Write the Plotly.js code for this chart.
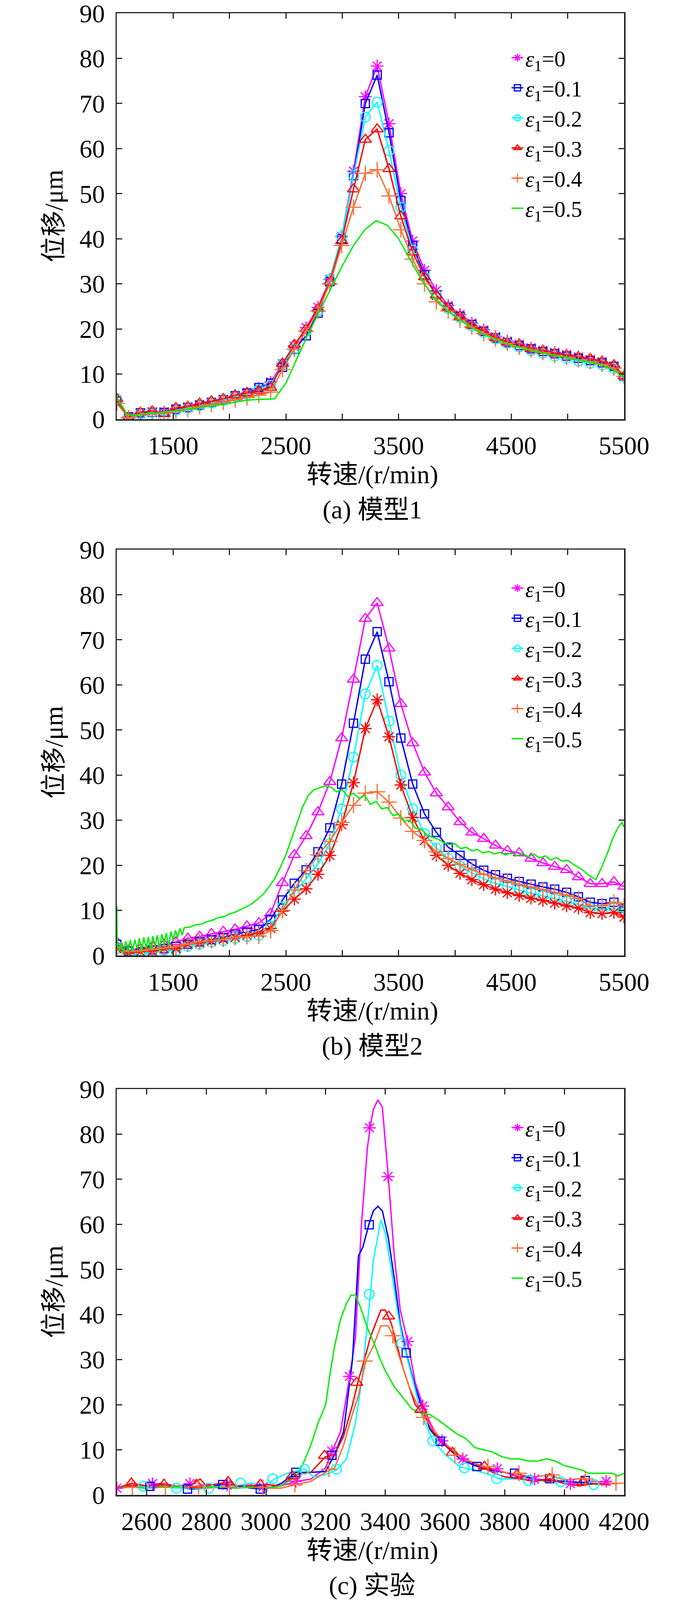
<!DOCTYPE html>
<html>
<head>
<meta charset="utf-8">
<script src="https://cdn.plot.ly/plotly-3.0.1.min.js"></script>
<style>
  html,body{margin:0;padding:0;background:#fff;}
  #chart{width:1772px;height:4101px;}
</style>
</head>
<body>
<div id="chart"></div>
<script>
// ---- (a) 模型1 / (b) 模型2 : speed grid shared by the marked curves (r/min)
const speedModel = [1000,1105,1210,1315,1420,1525,1630,1735,1840,1945,2050,2155,2260,2365,2470,2575,2680,2785,2890,2995,3100,3205,3310,3415,3520,3625,3730,3835,3940,4045,4150,4255,4360,4465,4570,4675,4780,4885,4990,5095,5200,5305,5410,5500];

// (a) 模型1, displacement in um
const m1_e0 = [3.5,0.5,1.3,1.6,1.6,2.3,2.7,3.2,3.7,4.3,5.0,5.8,6.8,8.2,12.3,16.2,20.3,24.8,31,40.5,55,71.5,78.3,65.5,50,39.5,33,28.5,25.2,23.2,21.3,19.8,18.3,17.3,16.6,15.8,15.2,14.8,14.3,13.8,13.2,12.7,11.7,9.5];
const m1_e1 = [4,0.5,1.4,1.5,1.5,2.2,2.6,3.1,3.7,4.3,5.2,5.8,7.0,8.0,11.5,15.5,18.5,23.5,30.5,40,54,70,76.3,63.5,48.5,38.5,32,27.5,24.8,22.8,21,19.5,18.0,17.0,16.3,15.6,15.0,14.5,14.0,13.5,13.0,12.5,11.7,9.5];
const m1_e2 = [4.5,0,1.2,1.5,0.8,2.0,2.5,3.0,3.6,4.2,5.0,5.5,6.5,7.5,12.3,15.5,19.5,24,31,40.5,54,67,70.3,59.5,47,37.5,31.5,27.5,24.5,22.5,20.6,19.2,17.8,16.8,16,15.2,14.6,14.0,13.5,12.9,12.4,12.0,11.2,9.5];
const m1_e3 = [4.5,0.3,1.5,1.8,1.2,2.5,2.8,3.5,4.0,4.5,5.3,5.8,6.3,7.0,12.3,16.5,20,24.5,30.5,39.5,51,62,64.3,55.5,45,37,31.5,27.5,24.8,22.8,20.8,19.5,18,17,16.6,15.6,15.2,14.6,14.2,13.8,13.4,12.8,12,9.5];
const m1_e4 = [3.5,0.3,1.0,1.2,1.3,1.8,2.2,2.8,3.3,3.8,4.3,4.8,5.3,6.0,11,15.5,19.5,24,30,38.5,47,54.5,55.3,49.5,42,35.5,30,26,24,22,20.5,19,17.8,16.8,16,15.4,14.8,14.2,13.8,13.2,12.8,12.2,11.3,9.5];
const m1_e5_x = [1000,1100,1200,1300,1400,1500,1600,1700,1800,1900,2000,2100,2200,2300,2400,2500,2600,2700,2800,2900,3000,3100,3200,3300,3400,3500,3600,3700,3800,3900,4000,4100,4200,4300,4400,4500,4600,4700,4800,4900,5000,5100,5200,5300,5400,5500];
const m1_e5 = [4.8,0.8,1.0,1.3,1.5,1.8,2.1,2.4,2.8,3.1,3.5,4.0,4.3,4.4,4.5,8.0,13.5,19,24,29,34,38.5,42,44,43,40,35.5,31,27.5,24.8,22.7,21,19.5,18.3,17.3,16.4,15.7,15.1,14.6,14.1,13.6,13.1,12.6,12.0,11.0,9.3];

// (b) 模型2
const m2_e0 = [3.0,1.2,1.5,2.0,2.5,3.0,3.8,4.2,4.8,5.3,5.8,6.5,7.2,9.3,16.1,22.3,26.5,31.8,38.5,48.2,61.2,74.7,78.2,68.1,55.8,47.1,40.6,36.0,32.9,29.6,27.3,25.9,24.4,23.2,22.7,21.5,20.5,19.7,19.0,17.4,15.9,15.9,16.3,15.3];
const m2_e1 = [2.5,1.0,0.8,1.2,1.5,2.0,2.5,3.0,3.5,4.0,4.7,5.2,5.8,8.0,12.3,16.0,19.0,23.0,28.3,38.0,51.5,65.7,71.8,60.7,48.2,38.0,31.4,27.3,24.0,22.2,20.3,18.9,17.9,17.1,16.4,15.8,15.2,14.7,14.0,13.0,11.8,11.5,11.8,10.5];
const m2_e2 = [1.5,0.2,0.0,0.8,1.2,1.0,2.0,2.5,3.0,3.3,3.8,4.2,4.5,6.5,10.8,14.0,17.0,20.3,24.8,32.5,44.0,58.0,64.3,52.0,40.0,32.5,27.0,23.8,21.5,19.8,18.3,17.0,16.0,15.3,14.5,13.8,13.2,12.6,12.0,11.3,10.5,10.2,10.5,9.5];
const m2_e3 = [1.5,0.5,0.8,1.0,1.5,1.5,2.5,2.8,3.2,3.6,4.0,4.5,5.0,6.0,9.8,12.5,14.8,18.0,22.2,29.0,38.3,50.3,56.7,48.5,37.8,30.6,25.5,22.2,20.0,18.2,16.8,15.7,14.7,13.9,13.3,12.7,12.2,11.6,11.0,10.5,9.5,9.3,9.5,8.5];
const m2_e4 = [2.0,0.8,1.0,1.3,1.6,2.0,2.5,3.0,3.3,3.6,4.0,4.2,4.3,5.5,10.0,14.5,18.8,22.3,25.3,29.5,33.3,36.0,36.3,34.0,30.5,27.5,25.5,23.0,21.5,20.2,19.0,18.0,17.2,16.5,15.8,15.2,14.6,14.0,13.4,12.6,11.0,11.0,11.8,11.0];
const m2_e5_x = [1000,1005,1020,1040,1060,1080,1100,1120,1140,1160,1180,1200,1220,1240,1260,1280,1300,1320,1340,1360,1380,1400,1420,1440,1460,1480,1500,1520,1540,1560,1580,1600,
  1650,1700,1750,1800,1850,1900,1950,2000,2050,2100,2150,2200,2250,2300,2350,2400,2450,2500,2550,2600,2650,2700,2750,2800,2850,2900,2950,3000,3050,3100,3150,3200,3250,3300,3350,3400,3450,3500,3550,3600,3650,3700,3750,3800,3850,3900,3950,4000,4050,4100,4150,4200,4250,4300,4350,4400,4450,4500,4550,4600,4650,4700,4750,4800,4850,4900,4950,5000,5050,5100,5150,5200,5250,5300,5350,5400,5450,5480,5500];
const m2_e5 = [11,2.5,1,3,0.5,3.2,1,3.4,0.8,3.5,1.5,3.8,0.8,4.0,1.5,4.1,1.2,4.3,2,4.5,1.5,4.7,2.5,5,2,5.3,3.5,5.6,4,6,4.5,6.2,
  6.3,6.8,6.9,7.5,7.8,8.4,8.6,9.2,9.6,10.2,10.8,11.5,12.5,13.6,15.2,17,19.5,22.3,25.8,29.5,33,35.5,36.8,37.2,37.6,37.3,36.3,36.8,35.2,36,34.8,35.5,33.5,34.2,32.5,32.8,31,31.4,29.8,30,28.2,28,26.8,26.2,25.8,25,24.6,24.8,23.7,24,23.2,23.5,22.7,23.1,22.5,22.9,22.3,22.8,22.1,22.6,21.9,22.5,21.6,22.1,21.2,21.7,20.9,21.1,20.2,19.5,18.6,17.6,16.8,19.5,22.5,26,28.5,29.5,28.5];

// (c) 实验 : measured curves
const ex_e0_x = [2500,2550,2600,2650,2700,2750,2800,2850,2900,2950,3000,3050,3100,3150,3200,3220,3250,3280,3300,3320,3340,3350,3360,3375,3390,3410,3430,3450,3475,3500,3525,3550,3575,3600,3650,3700,3750,3780,3800,3850,3900,3950,4000,4050,4100,4150];
const ex_e0 = [1.5,2.2,2.0,2.6,2.0,1.8,2.3,2.3,1.8,2.2,1.5,2.0,3.0,3.5,6.0,9.5,14,26,35,60,77,82,85.5,87.6,86,70.5,53,41,34,25,20,16,13,11,8,6.5,5.8,5.5,5,4,3.5,3.3,3,2.8,3,2.8];
const ex_e1_x = [2500,2550,2600,2650,2700,2750,2800,2850,2900,2950,3000,3050,3100,3150,3200,3230,3260,3290,3310,3325,3345,3360,3375,3390,3410,3430,3450,3470,3500,3525,3550,3580,3600,3650,3700,3750,3800,3850,3900,3950,4000,4050,4100,4150];
const ex_e1 = [1.5,1.8,2.0,2.2,1.8,1.3,1.5,2.3,2.0,1.5,1.3,2.5,5.0,5.0,5.2,9,14,30,53,55,60,63,64,63,57,48,38,31.5,24,19,14.5,12,11,8,6.5,5.5,5,4.5,3.5,3.2,3,2.8,2.5,2.5];
const ex_e2_x = [2500,2550,2600,2650,2700,2750,2800,2850,2900,2950,3000,3030,3080,3130,3160,3200,3240,3270,3300,3320,3340,3350,3360,3385,3400,3420,3440,3460,3490,3520,3560,3600,3650,3700,3750,3780,3850,3900,3950,4000,4050,4100,4150];
const ex_e2 = [1.5,1.8,2.0,1.8,1.5,1.5,1.5,2.0,2.0,2.6,2.0,3.6,5,5.7,4,4.5,5.7,8,16,25,38,44.5,52,61,58,50,41,33.7,26,18,12,9,6.2,5.5,4.5,3.6,3.5,3.2,3,2.6,2.5,2.3,2.5];
const ex_e3_x = [2500,2550,2600,2650,2700,2750,2780,2800,2850,2880,2900,2950,3000,3050,3100,3150,3200,3230,3260,3290,3310,3330,3350,3370,3385,3400,3420,3440,3460,3480,3500,3530,3560,3600,3640,3680,3720,3760,3800,3850,3900,3950,4000,4050,4100,4150];
const ex_e3 = [1.5,2.6,2.0,2.3,2.0,2.3,3.5,2.0,2.6,2.9,2.0,2.0,2.3,2.0,4.5,5.0,8.5,9,13,20,25.5,30,35,38.5,41,41,38,33,28,24,20,18,14,11,9,7.5,6.3,5,4,3.6,3,3.6,2.5,2,2.5,2.2];
const ex_e4_x = [2500,2550,2600,2650,2700,2750,2800,2850,2900,2950,3000,3050,3100,3150,3200,3230,3260,3290,3310,3335,3360,3385,3410,3425,3450,3480,3500,3530,3560,3600,3650,3700,3750,3800,3850,3900,3950,4000,4050,4100,4150,4180];
const ex_e4 = [1.5,1.7,1.5,1.7,2.0,1.9,1.5,1.7,1.5,1.7,1.5,1.5,2.3,3.0,5.0,6,11,18,22,29.8,33,37.5,37.5,35.3,30,24,21,17.2,14.5,11.5,8.5,7,6,5,4.5,4,4.4,3.3,3.6,3,2.5,2.5];
const ex_e5_x = [2500,2550,2600,2650,2700,2750,2800,2850,2900,2950,3000,3050,3100,3125,3150,3175,3200,3215,3230,3250,3270,3285,3300,3320,3340,3360,3380,3400,3430,3460,3490,3520,3550,3580,3610,3640,3670,3700,3730,3760,3790,3820,3850,3880,3910,3940,3970,4000,4030,4060,4080,4120,4160,4180,4200];
const ex_e5 = [1.5,1.8,1.5,2.0,1.8,1.5,1.8,1.7,1.5,1.7,1.5,2.0,4.0,7,11,16,20,27,33,39,42.5,44.3,44.3,41,37,34,30.5,27.5,24,21.5,19,18.2,17.8,16.5,15,13.5,12.5,10.5,10,9.5,8.5,8,8,7.5,7.5,8,7.5,6.5,6,5.5,4.8,4.8,4.8,4.2,4.8];

// (c) 实验 : sparse marker points on each measured curve
const ex_e0_mk_x = [2500,2620,2745,2870,2990,3100,3221,3280,3347,3409,3475,3526,3590,3660,3775,3900,4020,4140];
const ex_e0_mk = [1.5,2.5,2.5,2.2,1.8,3.0,9.7,26.3,81.4,70.6,34.0,19.7,12.0,8.0,5.8,3.5,2.5,3.0];
const ex_e1_mk_x = [2611,2737,2855,2981,3100,3221,3346,3470,3584,3707,3833,3951,4070];
const ex_e1_mk = [1.9,1.3,2.3,1.3,5.0,8.8,59.9,31.5,11.9,6.3,4.8,3.6,3.2];
const ex_e2_mk_x = [2589,2700,2808,2915,3023,3129,3236,3346,3455,3559,3665,3773,3880,3988,4099];
const ex_e2_mk = [1.9,1.5,1.5,2.6,3.6,5.7,5.7,44.5,33.7,12.0,6.0,3.6,3.2,2.9,2.3];
const ex_e3_mk_x = [2549,2658,2767,2873,2981,3088,3196,3304,3411,3519,3625,3732,3840,3951,4062];
const ex_e3_mk = [2.6,2.3,2.3,2.9,2.3,4.2,8.7,24.9,39.6,18.9,9.4,6.3,4.4,3.6,2.9];
const ex_e4_mk_x = [2552,2663,2774,2878,2989,3097,3211,3331,3425,3529,3633,3744,3848,3959,4070,4173];
const ex_e4_mk = [1.7,1.7,1.9,1.7,1.7,2.3,5.7,29.7,35.3,17.2,8.8,6.3,4.8,4.4,3.6,2.6];

// labels
const epsValues = ['0','0.1','0.2','0.3','0.4','0.5'];
const modelTicks = [1500,2500,3500,4500,5500];
const modelMinorTicks = [1000,2000,3000,4000,5000];
const expTicks = [2600,2800,3000,3200,3400,3600,3800,4000,4200];
const yTicks = [0,10,20,30,40,50,60,70,80,90];
const captions = ['(a) 模型1','(b) 模型2','(c) 实验'];
const xTitle = '转速/(r/min)';
const yTitle = '位移/μm';

const COLORS = ['#ff00ff','#0000ff','#00ffff','#ff0000','#f86f36','#00ee00'];
const SYMBOLS = ['asterisk-open','square-open','circle-open','triangle-up-open','cross-thin-open',null];
const SIZES = {'asterisk-open':27,'square-open':21,'circle-open':25,'triangle-up-open':27,'cross-thin-open':29};
const FONT = '"Liberation Serif", "Noto Sans CJK SC", serif';
const AXC = '#262626';
const LEG_SIZE = 57;

function curve(x, y, i, symbol, n, mode){
  const t = {
    x:x, y:y, type:'scatter', mode: mode || (symbol ? 'lines+markers' : 'lines'),
    line:{color:COLORS[i], width:3.5},
    xaxis: n===1 ? 'x' : 'x'+n, yaxis: n===1 ? 'y' : 'y'+n,
    showlegend:false, hoverinfo:'skip'
  };
  if(symbol) t.marker = {symbol:symbol, size:SIZES[symbol], color:COLORS[i], line:{color:COLORS[i], width:3}};
  return t;
}

// legend entries carry no data, so panel (b) can keep the legend symbols of (a)
function legendTraces(n){
  return epsValues.map((v,i)=>{
    const t = curve([null],[null],i,SYMBOLS[i],n);
    t.showlegend = true;
    t.name = '<i>ε</i><sub>1</sub>='+v;
    t.legend = n===1 ? 'legend' : 'legend'+n;
    return t;
  });
}

const traces = [];
// (a)
[m1_e0,m1_e1,m1_e2,m1_e3,m1_e4].forEach((y,i)=>traces.push(curve(speedModel,y,i,SYMBOLS[i],1)));
traces.push(curve(m1_e5_x,m1_e5,5,null,1));
// (b) : the ε1=0 and ε1=0.3 curves use swapped marker symbols in the source figure
const sym2 = ['triangle-up-open','square-open','circle-open','asterisk-open','cross-thin-open',null];
[m2_e0,m2_e1,m2_e2,m2_e3,m2_e4].forEach((y,i)=>traces.push(curve(speedModel,y,i,sym2[i],2)));
traces.push(curve(m2_e5_x,m2_e5,5,null,2));
// (c)
[[ex_e0_x,ex_e0],[ex_e1_x,ex_e1],[ex_e2_x,ex_e2],[ex_e3_x,ex_e3],[ex_e4_x,ex_e4],[ex_e5_x,ex_e5]]
  .forEach((d,i)=>traces.push(curve(d[0],d[1],i,null,3)));
[[ex_e0_mk_x,ex_e0_mk],[ex_e1_mk_x,ex_e1_mk],[ex_e2_mk_x,ex_e2_mk],[ex_e3_mk_x,ex_e3_mk],[ex_e4_mk_x,ex_e4_mk]]
  .forEach((d,i)=>traces.push(curve(d[0],d[1],i,SYMBOLS[i],3,'markers')));
[1,2,3].forEach(n=>legendTraces(n).forEach(t=>traces.push(t)));

// panel boxes in pixels (top, bottom) on a 4101 px tall page, plot spans x 299..1598
const W = 1772, H = 4101;
const boxes = [[34,1073],[1407,2446],[2788,3827]];
const xDom = [299/W, 1598/W];

function xAxis(n){
  const exp = n===3;
  const ax = {
    domain:xDom, anchor: n===1 ? 'y' : 'y'+n,
    range: exp ? [2500,4200] : [1000,5500],
    tickmode:'array', tickvals: exp ? expTicks : modelTicks,
    ticktext: (exp ? expTicks : modelTicks).map(String),
    ticks:'inside', ticklen:14, tickwidth:3, tickcolor:AXC,
    showline:true, linecolor:AXC, linewidth:3.5, mirror:'ticks',
    showgrid:false, zeroline:false, ticklabelstandoff:8, ticklabeloverflow:'allow',
    tickfont:{family:FONT, size:65, color:'#000'}
  };
  // unlabelled ticks between the labelled ones on the model panels
  if(!exp) ax.minor = {tickmode:'array', tickvals:modelMinorTicks, ticks:'inside', ticklen:14, tickwidth:3, tickcolor:AXC, showgrid:false};
  return ax;
}
function yAxis(n){
  const b = boxes[n-1];
  return {
    domain:[1-b[1]/H, 1-b[0]/H], anchor: n===1 ? 'x' : 'x'+n,
    range:[0,90], tickmode:'array', tickvals:yTicks, ticktext:yTicks.map(String),
    ticks:'inside', ticklen:14, tickwidth:3, tickcolor:AXC,
    showline:true, linecolor:AXC, linewidth:3.5, mirror:'ticks',
    showgrid:false, zeroline:false, ticklabelstandoff:14, ticklabeloverflow:'allow',
    tickfont:{family:FONT, size:65, color:'#000'}
  };
}
function legendCfg(n){
  const b = boxes[n-1];
  const off = n===1 ? 70 : 55;
  return {
    x:1305/W, y:1-(b[0]+off)/H, xanchor:'left', yanchor:'top',
    bgcolor:'rgba(0,0,0,0)', borderwidth:0, tracegroupgap:0,
    font:{family:FONT, size:LEG_SIZE, color:'#000'}
  };
}

const annotations = [];
boxes.forEach((b,k)=>{
  const cx = 0.538;
  annotations.push({xref:'paper', yref:'paper', x:cx, y:1-(b[1]+142)/H, text:xTitle, showarrow:false,
    xanchor:'center', yanchor:'middle', font:{family:FONT, size:66, color:'#000'}});
  annotations.push({xref:'paper', yref:'paper', x:cx, y:1-(b[1]+232)/H, text:captions[k], showarrow:false,
    xanchor:'center', yanchor:'middle', font:{family:FONT, size:66, color:'#000'}});
  annotations.push({xref:'paper', yref:'paper', x:137/W, y:1-(b[0]+b[1])/2/H, text:yTitle, showarrow:false,
    textangle:-90, xanchor:'center', yanchor:'middle', font:{family:FONT, size:66, color:'#000'}});
});

const layout = {
  width:W, height:H, margin:{l:0,r:0,t:0,b:0},
  paper_bgcolor:'#fff', plot_bgcolor:'#fff',
  xaxis:xAxis(1), xaxis2:xAxis(2), xaxis3:xAxis(3),
  yaxis:yAxis(1), yaxis2:yAxis(2), yaxis3:yAxis(3),
  legend:legendCfg(1), legend2:legendCfg(2), legend3:legendCfg(3),
  annotations:annotations
};

Plotly.newPlot('chart', traces, layout, {staticPlot:true, displayModeBar:false});
</script>
</body>
</html>
